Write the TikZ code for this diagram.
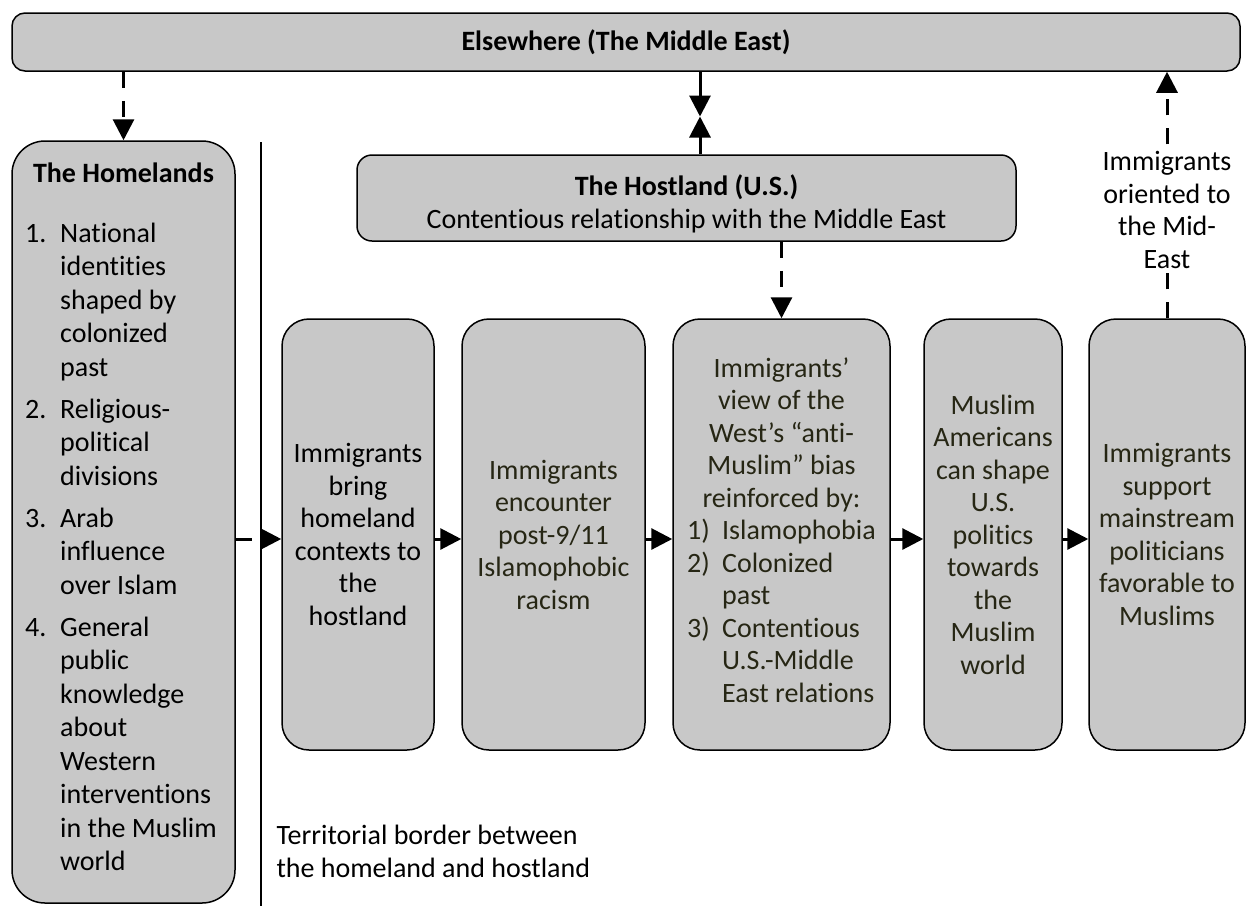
\documentclass[tikz,border=0pt]{standalone}
\usepackage{fontspec}
\setmainfont{Carlito}[Ligatures={TeX,NoCommon}]
\usepackage{tikz}
\usetikzlibrary{arrows.meta}
\definecolor{boxgray}{RGB}{200,200,200}
\definecolor{boxtext}{RGB}{38,38,20}
\tikzset{
  box/.style={draw,line width=1.5pt,fill=boxgray,rounded corners=27pt,align=center,inner sep=0pt},
  flow/.style={box,minimum height=431pt,text=boxtext},
  arr/.style={line width=3pt,-{Triangle[length=21pt,width=21pt]}},
  dasharr/.style={arr,dash pattern=on 16pt off 13pt},
}

\begin{document}
\begin{tikzpicture}[x=1pt,y=-1pt,font=\fontsize{28}{32.5}\selectfont]
\useasboundingbox (0,0) rectangle (1247,906);
\node[box,rounded corners=13pt,minimum width=1228pt,minimum height=58pt] (elsewhere) at (626,42) {\bfseries Elsewhere (The Middle East)};
\node[box,rounded corners=33pt,minimum width=223pt,minimum height=762pt] (homeland) at (123.5,522) {};
\node (homehead) at (123.5,173) {\bfseries The Homelands};
\node[anchor=north west,inner sep=0pt,font=\fontsize{28}{33.5}\selectfont] (homelist) at (25,218.6) {\begin{tabular}[t]{@{}p{35pt}@{}l@{}}
1.&National\\&identities\\&shaped by\\&colonized\\&past\\[8.5pt]
2.&Religious-\\&political\\&divisions\\[8.5pt]
3.&Arab\\&influence\\&over Islam\\[8.5pt]
4.&General\\&public\\&knowledge\\&about\\&Western\\&interventions\\&in the Muslim\\&world
\end{tabular}};
\node[box,rounded corners=15pt,minimum width=659pt,minimum height=86pt] (hostland) at (686.5,198) {};
\node[align=center] (hosttext) at (686.5,204) {\textbf{The Hostland (U.S.)}\\Contentious relationship with the Middle East};
\node[flow,minimum width=152pt,text=black] (bring) at (358,534.5) {Immigrants\\bring\\homeland\\contexts to\\the\\hostland};
\node[flow,minimum width=183pt] (encounter) at (553.5,534.5) {Immigrants\\encounter\\post-9/11\\Islamophobic\\racism};
\node[flow,minimum width=217pt] (view) at (781.5,534.5) {Immigrants’\\view of the\\West’s “anti-\\Muslim” bias\\reinforced by:\\\begin{tabular}[t]{@{}p{35pt}@{}l@{}}
1)&Islamophobia\\2)&Colonized\\&past\\3)&Contentious\\&U.S.-Middle\\&East relations\end{tabular}};
\node[flow,minimum width=138pt] (shape) at (993,534.5) {Muslim\\Americans\\can shape\\U.S.\\politics\\towards\\the\\Muslim\\world};
\node[flow,minimum width=156pt] (support) at (1167,534.5) {Immigrants\\support\\mainstream\\politicians\\favorable to\\Muslims};
\draw[line width=2pt] (261,142) -- (261,906);
\node[anchor=west,align=left] (bordertext) at (273,851.5) {Territorial border between\\the homeland and hostland};
\coordinate (mid) at (0,539);
\coordinate (meet) at (700,116.5);
\draw[dasharr] (elsewhere.south -| homeland.north) -- (homeland.north);
\draw[arr] (elsewhere.south -| meet) -- (meet);
\draw[arr] (hostland.north -| meet) -- (meet);
\draw[dasharr] (hostland.south -| view.north) -- (view.north);
\draw[dasharr] (support.north) -- node[pos=0.44,fill=white,inner sep=0pt,align=center] (midlabel) {Immigrants\\oriented to\\the Mid-\\East} (elsewhere.south -| support.north);
\draw[dasharr] (homeland.east |- mid) -- (bring.west |- mid);
\draw[arr] (bring.east |- mid) -- (encounter.west |- mid);
\draw[arr] (encounter.east |- mid) -- (view.west |- mid);
\draw[arr] (view.east |- mid) -- (shape.west |- mid);
\draw[arr] (shape.east |- mid) -- (support.west |- mid);
\end{tikzpicture}
\end{document}
